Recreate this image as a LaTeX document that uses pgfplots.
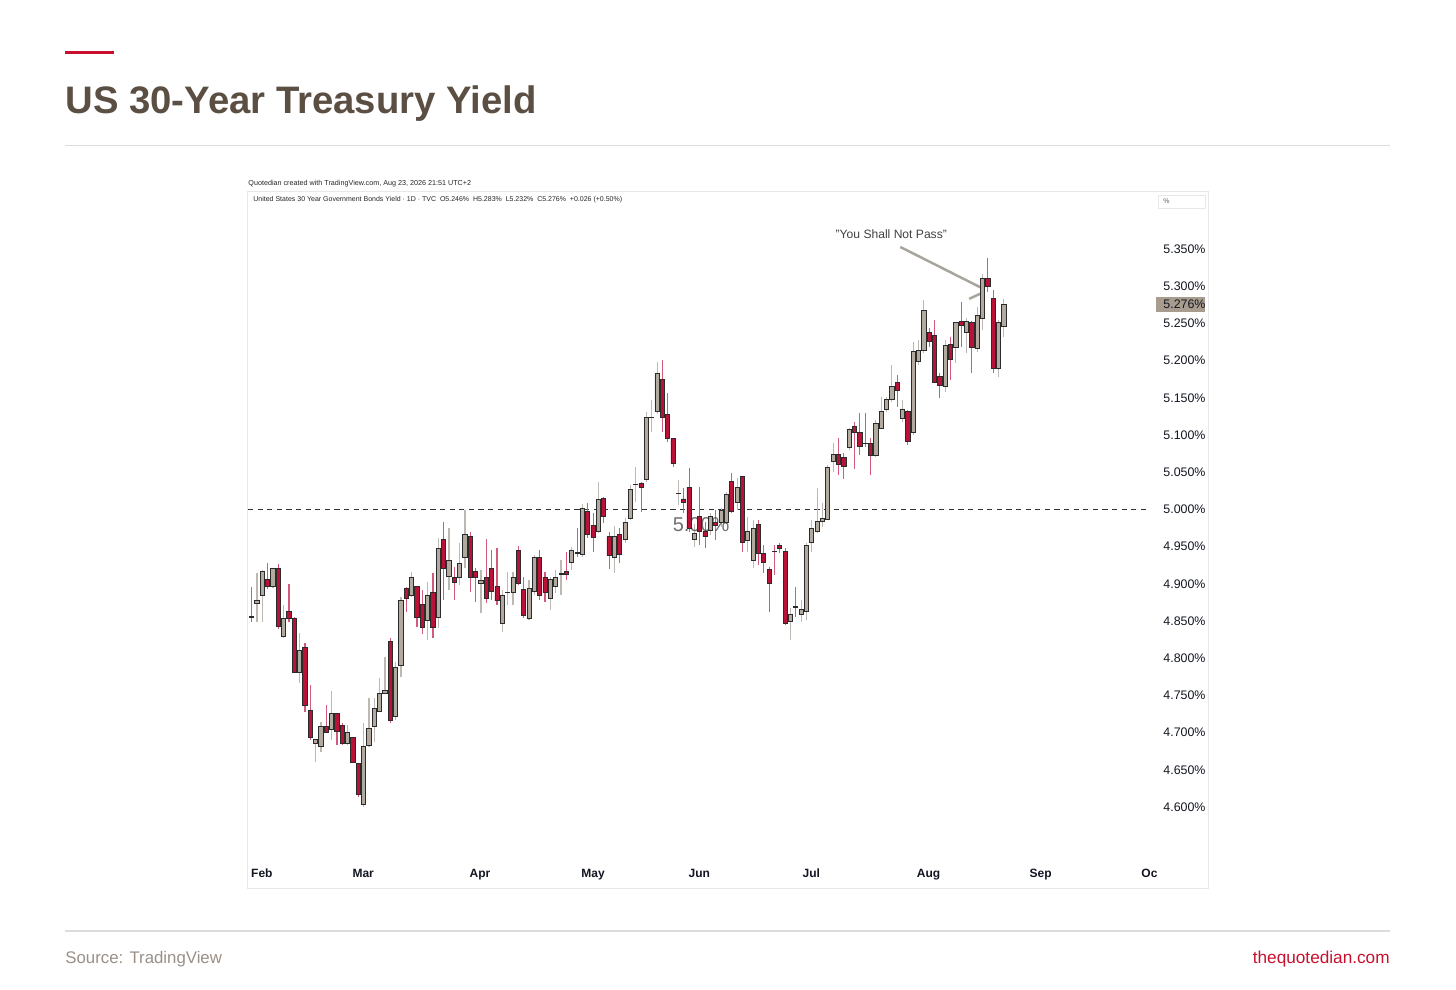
\documentclass[border=0pt]{standalone}
\usepackage{fontspec}
\setmainfont{Liberation Sans}
\usepackage{pgfplots}
\usepackage{pgfplotstable}
\pgfplotsset{compat=1.18}
\definecolor{crimson}{HTML}{C8102E}
\definecolor{titlec}{HTML}{5B4F44}
\definecolor{rulec}{HTML}{DCDCDC}
\definecolor{panelc}{HTML}{E8E8E8}
\definecolor{bodyR}{HTML}{BA1237}
\definecolor{bodyG}{HTML}{B2AA9E}
\definecolor{edgec}{HTML}{2B2B2B}
\definecolor{wickR}{HTML}{D25B7C}
\definecolor{wickG}{HTML}{BDB8B1}
\definecolor{tickc}{HTML}{131722}
\definecolor{pricebg}{HTML}{A89C8E}
\definecolor{arrowc}{HTML}{A9A59E}
\definecolor{sourcec}{HTML}{9A9088}

\pgfplotstableread{
i o h l c
1 4.856 4.896 4.849 4.855
2 4.874 4.915 4.849 4.877
3 4.885 4.919 4.849 4.916
4 4.906 4.928 4.893 4.896
5 4.897 4.921 4.895 4.920
6 4.921 4.927 4.839 4.843
7 4.829 4.871 4.827 4.853
8 4.863 4.900 4.849 4.853
9 4.854 4.855 4.780 4.781
10 4.781 4.834 4.767 4.811
11 4.815 4.820 4.728 4.736
12 4.730 4.764 4.690 4.694
13 4.686 4.691 4.660 4.691
14 4.682 4.714 4.674 4.708
15 4.708 4.737 4.700 4.700
16 4.704 4.756 4.690 4.726
17 4.726 4.726 4.683 4.702
18 4.709 4.713 4.683 4.686
19 4.686 4.710 4.683 4.700
20 4.693 4.694 4.659 4.660
21 4.658 4.659 4.613 4.617
22 4.604 4.713 4.600 4.682
23 4.683 4.747 4.681 4.706
24 4.708 4.746 4.687 4.733
25 4.729 4.773 4.728 4.753
26 4.753 4.802 4.753 4.757
27 4.822 4.827 4.713 4.716
28 4.722 4.795 4.717 4.787
29 4.790 4.882 4.775 4.878
30 4.894 4.896 4.862 4.880
31 4.885 4.916 4.882 4.908
32 4.896 4.896 4.842 4.855
33 4.872 4.892 4.833 4.842
34 4.851 4.903 4.825 4.885
35 4.888 4.915 4.827 4.841
36 4.855 4.962 4.840 4.948
37 4.959 4.983 4.878 4.921
38 4.910 4.975 4.892 4.931
39 4.909 4.923 4.878 4.902
40 4.909 4.955 4.898 4.927
41 4.935 4.999 4.921 4.966
42 4.963 4.970 4.889 4.909
43 4.916 4.921 4.875 4.909
44 4.900 4.919 4.861 4.904
45 4.909 4.960 4.874 4.880
46 4.921 4.945 4.878 4.890
47 4.896 4.948 4.872 4.877
48 4.847 4.892 4.835 4.885
49 4.888 4.916 4.872 4.889
50 4.888 4.916 4.872 4.909
51 4.945 4.951 4.898 4.900
52 4.893 4.909 4.854 4.858
53 4.853 4.905 4.851 4.894
54 4.890 4.939 4.885 4.935
55 4.935 4.945 4.878 4.885
56 4.909 4.916 4.875 4.888
57 4.880 4.909 4.865 4.906
58 4.897 4.919 4.888 4.909
59 4.913 4.932 4.885 4.914
60 4.916 4.943 4.905 4.912
61 4.929 4.949 4.919 4.945
62 4.942 4.975 4.936 4.941
63 4.939 5.007 4.936 5.001
64 4.997 5.009 4.962 4.967
65 4.979 4.995 4.943 4.962
66 4.971 5.037 4.968 5.013
67 5.015 5.017 4.982 4.990
68 4.963 4.970 4.920 4.938
69 4.935 4.978 4.915 4.963
70 4.966 4.975 4.928 4.940
71 4.960 4.988 4.955 4.983
72 4.988 5.033 4.986 5.027
73 5.033 5.057 5.010 5.034
74 5.035 5.037 4.997 5.030
75 5.040 5.131 5.037 5.123
76 5.123 5.147 5.104 5.124
77 5.131 5.198 5.128 5.183
78 5.175 5.201 5.104 5.123
79 5.128 5.156 5.091 5.096
80 5.095 5.096 5.057 5.062
81 5.021 5.040 5.006 5.022
82 5.014 5.029 4.995 5.009
83 5.030 5.056 4.970 4.975
84 4.960 4.980 4.950 4.968
85 4.990 5.030 4.952 4.970
86 4.970 4.983 4.948 4.963
87 4.972 4.995 4.965 4.990
88 4.982 4.999 4.959 4.978
89 4.982 5.002 4.976 4.998
90 4.983 5.023 4.980 5.020
91 5.037 5.049 4.995 4.997
92 5.009 5.042 4.999 5.030
93 5.044 5.045 4.943 4.955
94 4.958 4.990 4.943 4.971
95 4.931 4.986 4.921 4.975
96 4.980 4.986 4.925 4.941
97 4.941 4.952 4.915 4.929
98 4.919 4.923 4.862 4.900
99 4.944 4.952 4.912 4.943
100 4.951 4.955 4.941 4.947
101 4.944 4.948 4.845 4.847
102 4.850 4.867 4.824 4.859
103 4.869 4.896 4.855 4.868
104 4.859 4.878 4.849 4.865
105 4.863 4.955 4.851 4.951
106 4.955 4.986 4.943 4.975
107 4.970 5.029 4.968 4.984
108 4.984 5.009 4.976 4.988
109 4.987 5.060 4.986 5.057
110 5.064 5.089 5.050 5.074
111 5.074 5.096 5.046 5.061
112 5.070 5.076 5.041 5.058
113 5.083 5.109 5.080 5.107
114 5.111 5.117 5.054 5.103
115 5.104 5.130 5.073 5.084
116 5.089 5.130 5.084 5.088
117 5.089 5.096 5.046 5.072
118 5.072 5.120 5.070 5.116
119 5.109 5.151 5.109 5.131
120 5.135 5.151 5.131 5.148
121 5.148 5.194 5.144 5.165
122 5.170 5.181 5.138 5.160
123 5.122 5.147 5.117 5.135
124 5.131 5.134 5.087 5.092
125 5.103 5.225 5.100 5.212
126 5.199 5.228 5.194 5.213
127 5.213 5.281 5.210 5.267
128 5.238 5.244 5.218 5.226
129 5.234 5.255 5.170 5.171
130 5.179 5.183 5.150 5.167
131 5.165 5.228 5.158 5.220
132 5.222 5.232 5.174 5.202
133 5.218 5.252 5.197 5.251
134 5.253 5.279 5.218 5.247
135 5.238 5.257 5.210 5.253
136 5.251 5.253 5.183 5.218
137 5.217 5.272 5.212 5.261
138 5.257 5.316 5.241 5.311
139 5.310 5.338 5.292 5.299
140 5.284 5.295 5.183 5.190
141 5.189 5.255 5.178 5.251
142 5.246 5.283 5.232 5.276
}\candles

\pgfplotsset{
  basechart/.style={
    at={(124pt,-107.5pt)}, anchor=north west,
    scale only axis, width=451pt, height=322.5pt,
    xmin=0.306, xmax=169.4, ymin=4.5288, ymax=5.3957,
    clip=true,
  },
}

\begin{document}
\begin{tikzpicture}
\fill[white] (0,0) rectangle (728pt,-495pt);
\useasboundingbox (0,0) rectangle (728pt,-495pt);
% header decoration
\fill[crimson] (32.5pt,-25.3pt) rectangle (57pt,-27pt);
\node[anchor=base west, inner sep=0pt, text=titlec, font=\fontsize{19.15pt}{22pt}\selectfont\bfseries] at (32.5pt,-56.5pt) {US 30-Year Treasury Yield};
\draw[rulec, line width=0.6pt] (32.5pt,-72.75pt) -- (695pt,-72.75pt);
% panel
\draw[panelc, line width=0.5pt] (123.5pt,-95.5pt) rectangle (604pt,-444pt);
\node[anchor=west, inner sep=0pt, font=\fontsize{3.6pt}{4pt}\selectfont, text=black!85] at (124pt,-92pt) {Quotedian created with TradingView.com, Aug 23, 2026 21:51 UTC+2};
\node[anchor=west, inner sep=0pt, font=\fontsize{3.5pt}{4pt}\selectfont, text=black!85] at (126.5pt,-100pt) {United States 30 Year Government Bonds Yield · 1D · TVC\ \ O5.246\%\ \ H5.283\%\ \ L5.232\%\ \ C5.276\%\ \ +0.026 (+0.50\%)};
\draw[panelc, line width=0.4pt] (579pt,-97.5pt) rectangle (602.5pt,-104pt);
\node[anchor=west, inner sep=0pt, font=\fontsize{3.5pt}{4pt}\selectfont, text=black!60] at (581.5pt,-100.75pt) {\%};
% price label
\fill[pricebg] (578pt,-148.5pt) rectangle (602.5pt,-156pt);
\node[anchor=west, inner sep=0pt, font=\fontsize{6.2pt}{7pt}\selectfont, text=tickc] at (581.5pt,-152.25pt) {5.276\%};
% footer
\draw[rulec, line width=0.6pt] (32.5pt,-465.5pt) -- (695pt,-465.5pt);
\node[anchor=base west, inner sep=0pt, text=sourcec, font=\fontsize{8.4pt}{10pt}\selectfont] at (32.5pt,-481.5pt) {Source: TradingView};
\node[anchor=base east, inner sep=0pt, text=crimson, font=\fontsize{8.6pt}{10pt}\selectfont] at (695pt,-481.5pt) {thequotedian.com};

% wicks and 5% line
\begin{axis}[basechart, hide axis]
\addplot[color=black!80, line width=0.55pt, dash pattern=on 2.6pt off 2.2pt] coordinates {(0.306,5.0) (169.4,5.0)};
\addplot[draw=none, mark=none,
  restrict expr to domain={\thisrow{o}-\thisrow{c}}{0.00001:10},
  error bars/.cd, y dir=minus, y explicit, error mark=none,
  error bar style={draw=wickR, line width=0.6pt, solid}]
  table[x=i, y=h, y error expr=\thisrow{h}-\thisrow{l}] {\candles};
\addplot[draw=none, mark=none,
  restrict expr to domain={\thisrow{c}-\thisrow{o}}{0:10},
  error bars/.cd, y dir=minus, y explicit, error mark=none,
  error bar style={draw=wickG, line width=0.6pt, solid}]
  table[x=i, y=h, y error expr=\thisrow{h}-\thisrow{l}] {\candles};
\end{axis}

% bodies
\begin{axis}[basechart, ybar stacked, bar width=0.8,
  axis x line*=bottom, axis y line*=right, axis line style={draw=none},
  major tick length=0pt,
  /pgf/number format/assume math mode=true,
  ytick={4.6,4.65,4.7,4.75,4.8,4.85,4.9,4.95,5.0,5.05,5.1,5.15,5.2,5.25,5.3,5.35},
  yticklabel={\pgfmathprintnumber[fixed,fixed zerofill,precision=3]{\tick}\%},
  yticklabel style={anchor=west, inner sep=0pt, xshift=6.5pt, font=\fontsize{6.2pt}{7pt}\selectfont, text=tickc},
  xtick={2.9,21.9,43.8,65,84.9,105.9,127.9,148.9,169.3},
  xticklabels={Feb,Mar,Apr,May,Jun,Jul,Aug,Sep,Oc},
  xticklabel style={anchor=base, inner sep=0pt, yshift=-9pt, font=\fontsize{6pt}{7pt}\selectfont\bfseries, text=tickc},
]
\addplot[draw=none, fill=none] table[x=i, y expr={min(\thisrow{o},\thisrow{c})}] {\candles};
\addplot[fill=bodyG, draw=edgec, line width=0.45pt] table[x=i, y expr={max(\thisrow{c}-\thisrow{o},0)}] {\candles};
\addplot[fill=bodyR, draw=edgec, line width=0.45pt] table[x=i, y expr={max(\thisrow{o}-\thisrow{c},0)}] {\candles};
\node[font=\fontsize{10pt}{12pt}\selectfont, text=black!70, text opacity=0.8] at (axis cs:85.25,4.980) {5.00\%};
\node[font=\fontsize{6.05pt}{7pt}\selectfont, text=black!75] at (axis cs:120.9,5.370) {"You Shall Not Pass"};
\draw[arrowc, line width=1.25pt] (axis cs:122.6,5.3527) -- (axis cs:137.6,5.2985);
\draw[arrowc, line width=1.25pt] (axis cs:135.5,5.283) -- (axis cs:137.6,5.2900);
\end{axis}
\end{tikzpicture}
\end{document}
